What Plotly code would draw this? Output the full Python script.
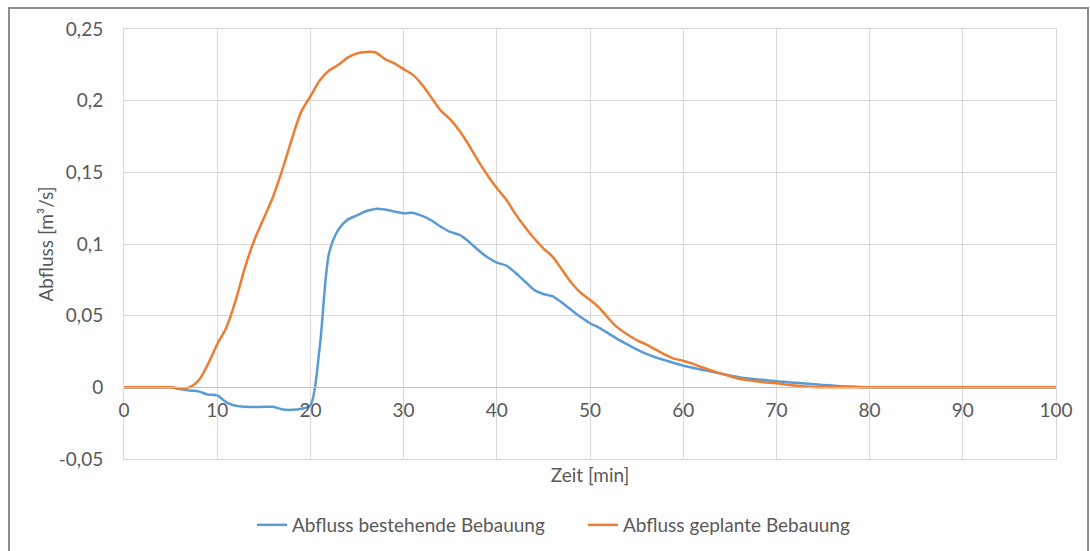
import plotly.graph_objects as go

# Zeit in Minuten
zeit = list(range(0, 101))

# Abfluss bei bestehender Bebauung [m³/s], 0..80 min, danach 0
abfluss_bestehend = [
    0, 0, 0, 0, 0, 0, -0.0012, -0.0023, -0.0028, -0.0051,
    -0.0056, -0.0105, -0.0129, -0.0136, -0.0138, -0.0136, -0.0136, -0.0154, -0.0157, -0.015,
    -0.0125, 0.028, 0.0935, 0.110, 0.117, 0.120, 0.123, 0.1245, 0.124, 0.1227,
    0.1215, 0.1217, 0.1196, 0.1164, 0.112, 0.1084, 0.1063, 0.1016, 0.0958, 0.0907,
    0.087, 0.085, 0.080, 0.074, 0.068, 0.0651, 0.0635, 0.059, 0.054, 0.049,
    0.0447, 0.0415, 0.0375, 0.0335, 0.030, 0.0265, 0.0235, 0.021, 0.019, 0.017,
    0.0151, 0.0137, 0.0123, 0.011, 0.0096, 0.0083, 0.007, 0.0062, 0.0055, 0.005,
    0.0042, 0.0037, 0.0032, 0.0027, 0.0022, 0.0017, 0.0012, 0.0008, 0.0005, 0.0002,
] + [0] * 21

# Abfluss bei geplanter Bebauung [m³/s]
abfluss_geplant = [
    0, 0, 0, 0, 0, 0, -0.0007, 0.0, 0.0047, 0.016,
    0.030, 0.042, 0.061, 0.084, 0.103, 0.118, 0.133, 0.152, 0.173, 0.192,
    0.203, 0.214, 0.221, 0.225, 0.230, 0.233, 0.234, 0.2336, 0.229, 0.226,
    0.222, 0.218, 0.211, 0.202, 0.193, 0.187, 0.179, 0.169, 0.158, 0.148,
    0.139, 0.131, 0.121, 0.112, 0.104, 0.097, 0.091, 0.082, 0.073, 0.066,
    0.061, 0.0555, 0.048, 0.0415, 0.037, 0.033, 0.030, 0.0265, 0.023, 0.020,
    0.0186, 0.0165, 0.014, 0.0118, 0.0097, 0.0078, 0.006, 0.005, 0.004, 0.0034,
    0.0028, 0.002, 0.0012, 0.0006, 0.0002,
] + [0] * 26

y_ticks = [-0.05, 0, 0.05, 0.1, 0.15, 0.2, 0.25]
y_ticklabels = ["-0,05", "0", "0,05", "0,1", "0,15", "0,2", "0,25"]
x_ticks = list(range(0, 101, 10))

FONT = "Lato"
TEXT = "#595959"
GRID = "#d9d9d9"
FS = 19

fig = go.Figure()
fig.add_trace(go.Scatter(
    x=zeit, y=abfluss_bestehend, mode="lines", name="Abfluss bestehende Bebauung",
    line=dict(color="#5B9BD5", width=2.5, shape="spline", smoothing=0.8),
))
fig.add_trace(go.Scatter(
    x=zeit, y=abfluss_geplant, mode="lines", name="Abfluss geplante Bebauung",
    line=dict(color="#ED7D31", width=2.5, shape="spline", smoothing=0.8),
))
# invisible trace carrying the tick-label axis that sits on y = 0
fig.add_trace(go.Scatter(x=[0, 100], y=[0, 0], xaxis="x2", mode="lines",
                         line=dict(width=0), showlegend=False, hoverinfo="skip"))

L, R, T, B = 124, 34, 29, 92
W, H = 1090, 551
plot_w = W - L - R
plot_h = H - T - B
zero_pos = (0 - (-0.05)) / 0.30

fig.update_layout(
    width=W, height=H,
    margin=dict(l=L, r=R, t=T, b=B, autoexpand=False),
    paper_bgcolor="white", plot_bgcolor="white",
    font=dict(family=FONT, color=TEXT, size=FS),
    xaxis=dict(
        range=[0, 100], tickvals=x_ticks, showticklabels=False, automargin=False,
        showgrid=True, gridcolor=GRID, gridwidth=1, zeroline=False,
        showline=True, linecolor=GRID, mirror=True,
        title=dict(text="Zeit [min]", standoff=9, font=dict(size=FS)),
    ),
    xaxis2=dict(
        range=[0, 100], tickvals=x_ticks, overlaying="x", anchor="free",
        position=zero_pos, showgrid=False, zeroline=False, automargin=False,
        showline=True, linecolor="#bfbfbf", linewidth=1.3,
        ticks="", ticklabelstandoff=6, tickfont=dict(size=FS),
    ),
    yaxis=dict(
        range=[-0.05, 0.25], tickvals=y_ticks, ticktext=y_ticklabels, automargin=False,
        showgrid=True, gridcolor=GRID, gridwidth=1, zeroline=False,
        showline=True, linecolor=GRID, mirror=True,
        ticks="", ticklabelstandoff=16, tickfont=dict(size=FS),
        title=dict(text="Abfluss [m³/s]", standoff=0, font=dict(size=FS)),
    ),
    legend=dict(
        orientation="h", x=(252 - L) / plot_w, xanchor="left",
        y=(H - B - 525) / plot_h, yanchor="middle",
        entrywidth=286, entrywidthmode="pixels",
        font=dict(size=FS, color=TEXT), bgcolor="rgba(0,0,0,0)",
    ),
    showlegend=True,
)

# outer chart frame
fig.add_shape(
    type="rect", xref="paper", yref="paper",
    x0=(9 - L) / plot_w, x1=(1088 - L) / plot_w,
    y0=(H - B - 560) / plot_h, y1=(H - B - 8) / plot_h,
    line=dict(color="#8c8c8c", width=2), fillcolor="rgba(0,0,0,0)", layer="below",
)

fig.write_html("out.html")
